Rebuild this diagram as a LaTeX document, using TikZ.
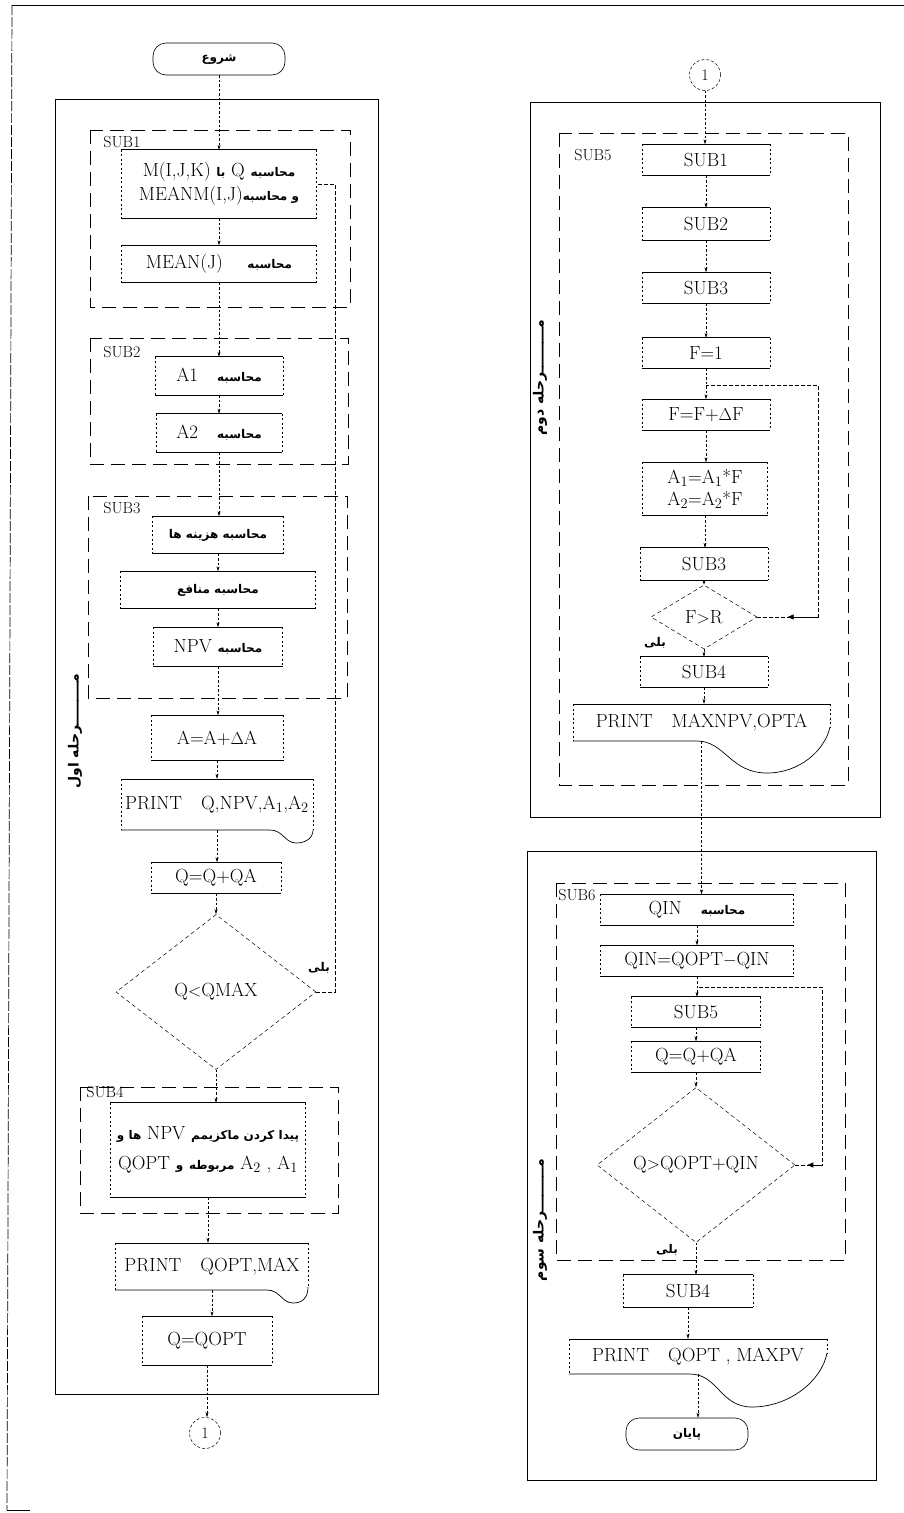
\documentclass[tikz,border=0pt]{standalone}
\usepackage{fontspec}
\usetikzlibrary{shapes.geometric,arrows.meta,calc}
\TeXXeTstate=1
\newfontfamily\persfont[Script=Arabic]{DejaVu Sans}
\newcommand\prs[1]{{\persfont\bfseries\fontsize{12}{14}\selectfont\beginR #1\endR}}
\newcommand\prsv[1]{{\persfont\bfseries\fontsize{14}{16}\selectfont\beginR #1\endR}}
\begin{document}
\begin{tikzpicture}[x=1pt,y=-1pt,
  every node/.style={font=\fontsize{19}{22}\selectfont},
  ln/.style={draw,line width=0.7pt},
  side/.style={draw,line width=0.5pt,dash pattern=on 2pt off 2.5pt},
  proc/.style 2 args={minimum width=#1pt,minimum height=#2pt,inner sep=0pt,align=center,
    append after command={
      (\tikzlastnode.north west) edge[ln] (\tikzlastnode.north east)
      (\tikzlastnode.south west) edge[ln] (\tikzlastnode.south east)
      (\tikzlastnode.north west) edge[side] (\tikzlastnode.south west)
      (\tikzlastnode.north east) edge[side] (\tikzlastnode.south east)}},
  doc/.style 2 args={minimum width=#1pt,minimum height=#2pt,inner sep=0pt},
  term/.style 2 args={draw,rounded corners=13pt,line width=0.6pt,minimum width=#1pt,minimum height=#2pt,inner sep=0pt},
  conn/.style={draw,line width=0.5pt,dash pattern=on 2.5pt off 2pt,-{Stealth[length=5pt,width=3pt]}},
  loopln/.style={draw,line width=0.6pt,dash pattern=on 4pt off 2pt},
  tip/.style={draw,line width=0.6pt,-{Triangle[length=6pt,width=5pt]}},
  subbox/.style={draw,line width=0.7pt,dash pattern=on 14pt off 7pt},
  outer/.style={draw,line width=0.9pt},
  sublbl/.style={font=\fontsize{16}{18}\selectfont,inner sep=0pt},
  conncirc/.style={circle,draw,line width=0.5pt,dash pattern=on 3pt off 2pt,minimum size=31pt,inner sep=0pt,font=\fontsize{16}{18}\selectfont},
  dia/.style 2 args={diamond,draw,line width=0.5pt,dash pattern=on 4pt off 3pt,inner sep=0pt,minimum width=#1pt,minimum height=#2pt}
]
\useasboundingbox (0,0) rectangle (904,1513);
\fill[white] (0,0) rectangle (904,1513);
% page frame
\draw[line width=0.9pt] (12,5) -- (904,5);
\draw[line width=0.7pt,dash pattern=on 10pt off 2pt] (12,5) -- (7,1510);
\draw[line width=0.7pt] (7,1510) -- (30,1510);

%================ LEFT COLUMN =================
\node[term={132}{32}] (start) at (219,59) {\prs{شروع}};
\draw[outer] (55,99) rectangle (378,1394);

\draw[subbox] (90,130) rectangle (350,307);
\node[sublbl] (l1) at (122,142) {SUB1};
\node[proc={195}{68}] (b1) at (219,184) {M(I,J,K)\ \prs{با} Q \prs{محاسبه}\\[2pt]MEANM(I,J)\prs{و محاسبه}};
\node[proc={195}{37}] (b2) at (219,264) {MEAN(J)\quad\ \prs{محاسبه}};

\draw[subbox] (90,338) rectangle (348,464);
\node[sublbl] (l2) at (122,352) {SUB2};
\node[proc={128}{38}] (a1) at (219,376) {A1\quad \prs{محاسبه}};
\node[proc={126}{38}] (a2) at (219,433) {A2\quad \prs{محاسبه}};

\draw[subbox] (88,496) rectangle (347,698);
\node[sublbl] (l3) at (122,508) {SUB3};
\node[proc={131}{37}] (c1) at (218,535) {\prs{محاسبه هزینه ها}};
\node[proc={195}{37}] (c2) at (218,590) {\prs{محاسبه منافع}};
\node[proc={129}{39}] (c3) at (218,647) {NPV \prs{محاسبه}};

\node[proc={132}{45}] (da) at (217,738) {A=A+$\Delta$A};

\node[doc={192}{51}] (p1) at (217,804.5) {PRINT\quad Q,NPV,$\mathrm{A}_1$,$\mathrm{A}_2$};
\draw[ln] (121,779) -- (313,779);
\draw[side] (121,779) -- (121,830);
\draw[side] (313,779) -- (313,830);
\draw[ln] (121,830) -- (270,830) .. controls (283,830) and (285,843) .. (296,843) .. controls (306,843) and (313,838) .. (313,830);

\node[proc={130}{31}] (dq) at (216,878) {Q=Q+QA};
\node[dia={200}{155}] (dec1) at (216,992) {Q$<$QMAX};
\node[font=\fontsize{12}{14}\selectfont] (yes1) at (319,968) {\prs{بلی}};

\draw[subbox] (80,1087) rectangle (338,1213);
\node[sublbl] (l4) at (105,1092) {SUB4};
\node[proc={195}{94}] (s4) at (208,1150) {\prs{ها و} NPV \prs{پیدا کردن ماکزیمم}\\[8pt]QOPT \prs{و} \prs{مربوطه} $\mathrm{A}_2$ , $\mathrm{A}_1$};

\node[doc={193}{47}] (p2) at (212,1266.5) {PRINT\quad QOPT,MAX};
\draw[ln] (115,1243) -- (308,1243);
\draw[side] (115,1243) -- (115,1290);
\draw[side] (308,1243) -- (308,1287);
\draw[ln] (115,1290) -- (267,1290) .. controls (280,1290) and (282,1303) .. (293,1303) .. controls (303,1303) and (308,1297) .. (308,1287);

\node[proc={130}{49}] (qo) at (207,1341) {Q=QOPT};
\node[conncirc] (cL) at (205,1433) {1};

% left connectors
\draw[conn] (start.south) -- (start.south |- b1.north);
\draw[conn] (b1.south) -- (b1.south |- b2.north);
\draw[conn] (b2.south) -- (b2.south |- a1.north);
\draw[conn] (a1.south) -- (a1.south |- a2.north);
\draw[conn] (a2.south) -- (a2.south |- c1.north);
\draw[conn] (c1.south) -- (c1.south |- c2.north);
\draw[conn] (c2.south) -- (c2.south |- c3.north);
\draw[conn] (c3.south) -- (c3.south |- da.north);
\draw[conn] (da.south) -- (da.south |- p1.north);
\draw[conn] (p1.south) -- (p1.south |- dq.north);
\draw[conn] (dq.south) -- (dec1.north);
\draw[conn] (dec1.south) -- (dec1.south |- s4.north);
\draw[conn] (s4.south) -- (s4.south |- p2.north);
\draw[conn] (p2.south) -- (p2.south |- qo.north);
\draw[conn] (qo.south) -- (qo.south |- cL.north);
% loop back
\coordinate (L1a) at (335,992);
\coordinate (L1b) at (335,184);
\draw[loopln] (dec1.east) -- (L1a) -- (L1b) -- (b1.east);

\node[rotate=90] (st1) at (75,731) {\prsv{مـــــــــرحله اول}};

%================ RIGHT COLUMN =================
\node[conncirc] (cR) at (705,75) {1};
\draw[outer] (530,102) rectangle (880,817);
\draw[subbox] (559,133) rectangle (848,785);
\node[sublbl] (l5) at (593,155) {SUB5};

\node[proc={128}{31}] (r1) at (706,160) {SUB1};
\node[proc={128}{32}] (r2) at (706,224) {SUB2};
\node[proc={128}{31}] (r3) at (706,288) {SUB3};
\node[proc={128}{30}] (r4) at (706,353) {F=1};
\node[proc={128}{31}] (r5) at (706,415) {F=F+$\Delta$F};
\node[proc={125}{53}] (r6) at (705,489) {$\mathrm{A}_1$=$\mathrm{A}_1$*F\\$\mathrm{A}_2$=$\mathrm{A}_2$*F};
\node[proc={128}{32}] (r7) at (704,564) {SUB3};
\node[dia={106}{64}] (dec2) at (704,617) {F$>$R};
\node[font=\fontsize{12}{14}\selectfont] (yes2) at (655,643) {\prs{بلی}};
\node[proc={128}{30}] (r8) at (704,672) {SUB4};

\node[doc={257}{37}] (p3) at (701.5,722.5) {PRINT\quad MAXNPV,OPTA};
\draw[ln] (573,704) -- (830,704);
\draw[side] (573,704) -- (573,741);
\draw[side] (830,704) -- (830,727);
\draw[ln] (573,741) -- (697,741) .. controls (725,741) and (730,773) .. (767,773) .. controls (800,773) and (825,750) .. (830,727);

\node[rotate=90] (st2) at (540,378) {\prsv{مـــــــــرحله دوم}};

% right connectors
\draw[conn] (cR.south) -- (cR.south |- r1.north);
\draw[conn] (r1.south) -- (r1.south |- r2.north);
\draw[conn] (r2.south) -- (r2.south |- r3.north);
\draw[conn] (r3.south) -- (r3.south |- r4.north);
\draw[conn] (r4.south) -- (r4.south |- r5.north);
\draw[conn] (r5.south) -- (r5.south |- r6.north);
\draw[conn] (r6.south) -- (r6.south |- r7.north);
\draw[conn] (r7.south) -- (dec2.north);
\draw[conn] (dec2.south) -- (dec2.south |- r8.north);
\draw[conn] (r8.south) -- (r8.south |- p3.north);
\coordinate (j1) at (706,385);
\coordinate (L2a) at (818,617);
\coordinate (L2b) at (818,385);
\draw[loopln] (dec2.east) -- (L2a) -- (L2b) -- (j1);
\draw[tip] (L2a) -- ($(dec2.east)!0.5!(L2a)$);

% second lower block
\draw[outer] (527,851) rectangle (876,1480);
\draw[subbox] (556,883) rectangle (845,1260);
\node[sublbl] (l6) at (577,895) {SUB6};
\node[proc={193}{31}] (q1) at (697,910) {QIN\quad \prs{محاسبه}};
\node[proc={193}{31}] (q2) at (697,961) {QIN=QOPT$-$QIN};
\node[proc={129}{30}] (q3) at (696,1012) {SUB5};
\node[proc={129}{31}] (q4) at (696,1057) {Q=Q+QA};
\node[dia={198}{155}] (dec3) at (696,1165) {Q$>$QOPT+QIN};
\node[font=\fontsize{12}{14}\selectfont] (yes3) at (667,1250) {\prs{بلی}};
\node[proc={130}{32}] (q5) at (688,1291) {SUB4};

\node[doc={258}{35}] (p4) at (698,1356.5) {PRINT\quad QOPT , MAXPV};
\draw[ln] (569,1339) -- (827,1339);
\draw[side] (569,1339) -- (569,1374);
\draw[side] (827,1339) -- (827,1353);
\draw[ln] (569,1374) -- (690,1374) .. controls (718,1374) and (720,1407) .. (752,1407) .. controls (790,1407) and (822,1380) .. (827,1353);

\node[term={122}{32}] (endT) at (687,1434) {\prs{پایان}};
\node[rotate=90] (st3) at (540,1220) {\prsv{مـــــــــرحله سوم}};

\draw[conn] (p3.south) -- (p3.south |- q1.north);
\draw[conn] (q1.south) -- (q1.south |- q2.north);
\draw[conn] (q2.south) -- (q2.south |- q3.north);
\draw[conn] (q3.south) -- (q3.south |- q4.north);
\draw[conn] (q4.south) -- (dec3.north);
\draw[conn] (dec3.south) -- (dec3.south |- q5.north);
\draw[conn] (q5.south) -- (q5.south |- p4.north);
\draw[conn] (p4.south) -- (p4.south |- endT.north);
\coordinate (j2) at (697,987);
\coordinate (L3a) at (822,1165);
\coordinate (L3b) at (822,987);
\draw[loopln] (dec3.east) -- (L3a) -- (L3b) -- (j2);
\draw[tip] (L3a) -- ($(dec3.east)!0.45!(L3a)$);
\end{tikzpicture}
\end{document}
